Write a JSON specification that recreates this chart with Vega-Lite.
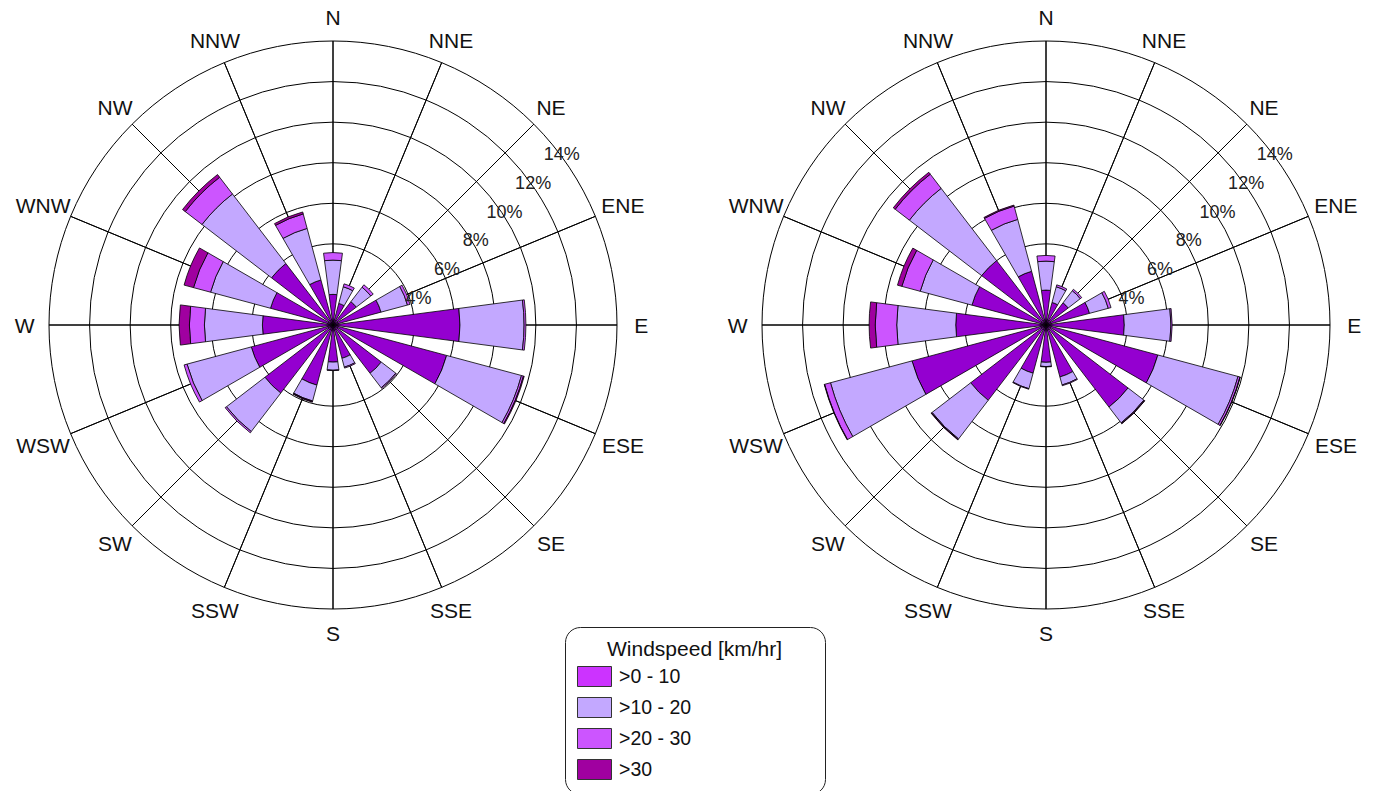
{
  "$schema": "https://vega.github.io/schema/vega-lite/v6.json",
  "padding": {"left": 5, "top": 0, "right": 0, "bottom": 0},
  "background": "white",
  "config": {"font": "Liberation Sans", "view": {"stroke": null}},
  "spacing": 57,
  "bounds": "flush",
  "datasets": {
    "rings": [
      {"ring": 4, "label": "4%"}, {"ring": 6, "label": "6%"}, {"ring": 8, "label": "8%"},
      {"ring": 10, "label": "10%"}, {"ring": 12, "label": "12%"}, {"ring": 14, "label": "14%"}
    ],
    "dirs": [
      {"dir": "N", "deg": 0}, {"dir": "NNE", "deg": 22.5}, {"dir": "NE", "deg": 45}, {"dir": "ENE", "deg": 67.5},
      {"dir": "E", "deg": 90}, {"dir": "ESE", "deg": 112.5}, {"dir": "SE", "deg": 135}, {"dir": "SSE", "deg": 157.5},
      {"dir": "S", "deg": 180}, {"dir": "SSW", "deg": 202.5}, {"dir": "SW", "deg": 225}, {"dir": "WSW", "deg": 247.5},
      {"dir": "W", "deg": 270}, {"dir": "WNW", "deg": 292.5}, {"dir": "NW", "deg": 315}, {"dir": "NNW", "deg": 337.5}
    ],
    "speeds": [
      {"speed": ">0 - 10"}, {"speed": ">10 - 20"}, {"speed": ">20 - 30"}, {"speed": ">30"}
    ],
    "bars": [
      {"panel": "L", "dir": "N", "deg": 0, "speed": ">0 - 10", "pct": 1.51},
      {"panel": "L", "dir": "N", "deg": 0, "speed": ">10 - 20", "pct": 1.69},
      {"panel": "L", "dir": "N", "deg": 0, "speed": ">20 - 30", "pct": 0.37},
      {"panel": "L", "dir": "NNE", "deg": 22.5, "speed": ">0 - 10", "pct": 1.10},
      {"panel": "L", "dir": "NNE", "deg": 22.5, "speed": ">10 - 20", "pct": 0.85},
      {"panel": "L", "dir": "NNE", "deg": 22.5, "speed": ">20 - 30", "pct": 0.15},
      {"panel": "L", "dir": "NE", "deg": 45, "speed": ">0 - 10", "pct": 1.45},
      {"panel": "L", "dir": "NE", "deg": 45, "speed": ">10 - 20", "pct": 0.90},
      {"panel": "L", "dir": "NE", "deg": 45, "speed": ">20 - 30", "pct": 0.15},
      {"panel": "L", "dir": "ENE", "deg": 67.5, "speed": ">0 - 10", "pct": 2.45},
      {"panel": "L", "dir": "ENE", "deg": 67.5, "speed": ">10 - 20", "pct": 1.35},
      {"panel": "L", "dir": "ENE", "deg": 67.5, "speed": ">20 - 30", "pct": 0.13},
      {"panel": "L", "dir": "E", "deg": 90, "speed": ">0 - 10", "pct": 6.26},
      {"panel": "L", "dir": "E", "deg": 90, "speed": ">10 - 20", "pct": 3.16},
      {"panel": "L", "dir": "E", "deg": 90, "speed": ">20 - 30", "pct": 0.09},
      {"panel": "L", "dir": "ESE", "deg": 112.5, "speed": ">0 - 10", "pct": 5.80},
      {"panel": "L", "dir": "ESE", "deg": 112.5, "speed": ">10 - 20", "pct": 3.82},
      {"panel": "L", "dir": "ESE", "deg": 112.5, "speed": ">20 - 30", "pct": 0.10},
      {"panel": "L", "dir": "ESE", "deg": 112.5, "speed": ">30", "pct": 0.04},
      {"panel": "L", "dir": "SE", "deg": 135, "speed": ">0 - 10", "pct": 3.00},
      {"panel": "L", "dir": "SE", "deg": 135, "speed": ">10 - 20", "pct": 0.90},
      {"panel": "L", "dir": "SE", "deg": 135, "speed": ">20 - 30", "pct": 0.05},
      {"panel": "L", "dir": "SSE", "deg": 157.5, "speed": ">0 - 10", "pct": 1.70},
      {"panel": "L", "dir": "SSE", "deg": 157.5, "speed": ">10 - 20", "pct": 0.45},
      {"panel": "L", "dir": "SSE", "deg": 157.5, "speed": ">20 - 30", "pct": 0.05},
      {"panel": "L", "dir": "S", "deg": 180, "speed": ">0 - 10", "pct": 1.83},
      {"panel": "L", "dir": "S", "deg": 180, "speed": ">10 - 20", "pct": 0.40},
      {"panel": "L", "dir": "S", "deg": 180, "speed": ">20 - 30", "pct": 0.02},
      {"panel": "L", "dir": "SSW", "deg": 202.5, "speed": ">0 - 10", "pct": 3.07},
      {"panel": "L", "dir": "SSW", "deg": 202.5, "speed": ">10 - 20", "pct": 0.81},
      {"panel": "L", "dir": "SSW", "deg": 202.5, "speed": ">20 - 30", "pct": 0.03},
      {"panel": "L", "dir": "SSW", "deg": 202.5, "speed": ">30", "pct": 0.03},
      {"panel": "L", "dir": "SW", "deg": 225, "speed": ">0 - 10", "pct": 4.23},
      {"panel": "L", "dir": "SW", "deg": 225, "speed": ">10 - 20", "pct": 2.39},
      {"panel": "L", "dir": "SW", "deg": 225, "speed": ">20 - 30", "pct": 0.08},
      {"panel": "L", "dir": "WSW", "deg": 247.5, "speed": ">0 - 10", "pct": 4.17},
      {"panel": "L", "dir": "WSW", "deg": 247.5, "speed": ">10 - 20", "pct": 3.28},
      {"panel": "L", "dir": "WSW", "deg": 247.5, "speed": ">20 - 30", "pct": 0.15},
      {"panel": "L", "dir": "W", "deg": 270, "speed": ">0 - 10", "pct": 3.48},
      {"panel": "L", "dir": "W", "deg": 270, "speed": ">10 - 20", "pct": 2.86},
      {"panel": "L", "dir": "W", "deg": 270, "speed": ">20 - 30", "pct": 0.74},
      {"panel": "L", "dir": "W", "deg": 270, "speed": ">30", "pct": 0.51},
      {"panel": "L", "dir": "WNW", "deg": 292.5, "speed": ">0 - 10", "pct": 3.19},
      {"panel": "L", "dir": "WNW", "deg": 292.5, "speed": ">10 - 20", "pct": 3.06},
      {"panel": "L", "dir": "WNW", "deg": 292.5, "speed": ">20 - 30", "pct": 0.87},
      {"panel": "L", "dir": "WNW", "deg": 292.5, "speed": ">30", "pct": 0.48},
      {"panel": "L", "dir": "NW", "deg": 315, "speed": ">0 - 10", "pct": 3.82},
      {"panel": "L", "dir": "NW", "deg": 315, "speed": ">10 - 20", "pct": 4.32},
      {"panel": "L", "dir": "NW", "deg": 315, "speed": ">20 - 30", "pct": 1.04},
      {"panel": "L", "dir": "NW", "deg": 315, "speed": ">30", "pct": 0.17},
      {"panel": "L", "dir": "NNW", "deg": 337.5, "speed": ">0 - 10", "pct": 2.30},
      {"panel": "L", "dir": "NNW", "deg": 337.5, "speed": ">10 - 20", "pct": 2.63},
      {"panel": "L", "dir": "NNW", "deg": 337.5, "speed": ">20 - 30", "pct": 0.74},
      {"panel": "L", "dir": "NNW", "deg": 337.5, "speed": ">30", "pct": 0.10},
      {"panel": "R", "dir": "N", "deg": 0, "speed": ">0 - 10", "pct": 1.72},
      {"panel": "R", "dir": "N", "deg": 0, "speed": ">10 - 20", "pct": 1.43},
      {"panel": "R", "dir": "N", "deg": 0, "speed": ">20 - 30", "pct": 0.28},
      {"panel": "R", "dir": "NNE", "deg": 22.5, "speed": ">0 - 10", "pct": 1.15},
      {"panel": "R", "dir": "NNE", "deg": 22.5, "speed": ">10 - 20", "pct": 0.80},
      {"panel": "R", "dir": "NNE", "deg": 22.5, "speed": ">20 - 30", "pct": 0.10},
      {"panel": "R", "dir": "NE", "deg": 45, "speed": ">0 - 10", "pct": 1.38},
      {"panel": "R", "dir": "NE", "deg": 45, "speed": ">10 - 20", "pct": 0.75},
      {"panel": "R", "dir": "NE", "deg": 45, "speed": ">20 - 30", "pct": 0.09},
      {"panel": "R", "dir": "ENE", "deg": 67.5, "speed": ">0 - 10", "pct": 2.22},
      {"panel": "R", "dir": "ENE", "deg": 67.5, "speed": ">10 - 20", "pct": 0.96},
      {"panel": "R", "dir": "ENE", "deg": 67.5, "speed": ">20 - 30", "pct": 0.14},
      {"panel": "R", "dir": "E", "deg": 90, "speed": ">0 - 10", "pct": 3.86},
      {"panel": "R", "dir": "E", "deg": 90, "speed": ">10 - 20", "pct": 2.30},
      {"panel": "R", "dir": "E", "deg": 90, "speed": ">20 - 30", "pct": 0.06},
      {"panel": "R", "dir": "ESE", "deg": 112.5, "speed": ">0 - 10", "pct": 5.71},
      {"panel": "R", "dir": "ESE", "deg": 112.5, "speed": ">10 - 20", "pct": 4.09},
      {"panel": "R", "dir": "ESE", "deg": 112.5, "speed": ">20 - 30", "pct": 0.10},
      {"panel": "R", "dir": "ESE", "deg": 112.5, "speed": ">30", "pct": 0.02},
      {"panel": "R", "dir": "SE", "deg": 135, "speed": ">0 - 10", "pct": 5.10},
      {"panel": "R", "dir": "SE", "deg": 135, "speed": ">10 - 20", "pct": 0.98},
      {"panel": "R", "dir": "SE", "deg": 135, "speed": ">20 - 30", "pct": 0.04},
      {"panel": "R", "dir": "SE", "deg": 135, "speed": ">30", "pct": 0.02},
      {"panel": "R", "dir": "SSE", "deg": 157.5, "speed": ">0 - 10", "pct": 2.65},
      {"panel": "R", "dir": "SSE", "deg": 157.5, "speed": ">10 - 20", "pct": 0.41},
      {"panel": "R", "dir": "SSE", "deg": 157.5, "speed": ">20 - 30", "pct": 0.04},
      {"panel": "R", "dir": "S", "deg": 180, "speed": ">0 - 10", "pct": 1.84},
      {"panel": "R", "dir": "S", "deg": 180, "speed": ">10 - 20", "pct": 0.21},
      {"panel": "R", "dir": "S", "deg": 180, "speed": ">20 - 30", "pct": 0.02},
      {"panel": "R", "dir": "SSW", "deg": 202.5, "speed": ">0 - 10", "pct": 2.46},
      {"panel": "R", "dir": "SSW", "deg": 202.5, "speed": ">10 - 20", "pct": 0.79},
      {"panel": "R", "dir": "SSW", "deg": 202.5, "speed": ">20 - 30", "pct": 0.03},
      {"panel": "R", "dir": "SW", "deg": 225, "speed": ">0 - 10", "pct": 4.68},
      {"panel": "R", "dir": "SW", "deg": 225, "speed": ">10 - 20", "pct": 2.40},
      {"panel": "R", "dir": "SW", "deg": 225, "speed": ">20 - 30", "pct": 0.04},
      {"panel": "R", "dir": "SW", "deg": 225, "speed": ">30", "pct": 0.02},
      {"panel": "R", "dir": "WSW", "deg": 247.5, "speed": ">0 - 10", "pct": 6.84},
      {"panel": "R", "dir": "WSW", "deg": 247.5, "speed": ">10 - 20", "pct": 4.16},
      {"panel": "R", "dir": "WSW", "deg": 247.5, "speed": ">20 - 30", "pct": 0.30},
      {"panel": "R", "dir": "WSW", "deg": 247.5, "speed": ">30", "pct": 0.02},
      {"panel": "R", "dir": "W", "deg": 270, "speed": ">0 - 10", "pct": 4.45},
      {"panel": "R", "dir": "W", "deg": 270, "speed": ">10 - 20", "pct": 2.91},
      {"panel": "R", "dir": "W", "deg": 270, "speed": ">20 - 30", "pct": 1.06},
      {"panel": "R", "dir": "W", "deg": 270, "speed": ">30", "pct": 0.30},
      {"panel": "R", "dir": "WNW", "deg": 292.5, "speed": ">0 - 10", "pct": 3.78},
      {"panel": "R", "dir": "WNW", "deg": 292.5, "speed": ">10 - 20", "pct": 2.64},
      {"panel": "R", "dir": "WNW", "deg": 292.5, "speed": ">20 - 30", "pct": 0.94},
      {"panel": "R", "dir": "WNW", "deg": 292.5, "speed": ">30", "pct": 0.22},
      {"panel": "R", "dir": "NW", "deg": 315, "speed": ">0 - 10", "pct": 4.00},
      {"panel": "R", "dir": "NW", "deg": 315, "speed": ">10 - 20", "pct": 4.49},
      {"panel": "R", "dir": "NW", "deg": 315, "speed": ">20 - 30", "pct": 0.88},
      {"panel": "R", "dir": "NW", "deg": 315, "speed": ">30", "pct": 0.12},
      {"panel": "R", "dir": "NNW", "deg": 337.5, "speed": ">0 - 10", "pct": 2.74},
      {"panel": "R", "dir": "NNW", "deg": 337.5, "speed": ">10 - 20", "pct": 2.65},
      {"panel": "R", "dir": "NNW", "deg": 337.5, "speed": ">20 - 30", "pct": 0.68},
      {"panel": "R", "dir": "NNW", "deg": 337.5, "speed": ">30", "pct": 0.05}
    ]
  },
  "hconcat": [
    {
      "width": 656,
      "height": 650,
      "layer": [
        {
          "data": {"name": "rings"},
          "mark": {"type": "arc", "filled": false, "stroke": "black", "strokeWidth": 1},
          "encoding": {
            "theta": {"datum": 0, "type": "quantitative", "stack": null, "scale": {"type": "linear", "domain": [0, 360], "range": [0, 6.283185307179586]}},
            "theta2": {"datum": 360},
            "radius": {"field": "ring", "type": "quantitative", "stack": null, "scale": {"type": "linear", "domain": [0, 14], "range": [0, 284], "zero": true}}
          }
        },
        {
          "data": {"name": "dirs"},
          "mark": {"type": "arc", "filled": false, "stroke": "black", "strokeWidth": 1},
          "encoding": {
            "theta": {"field": "deg", "type": "quantitative", "stack": null, "scale": {"type": "linear", "domain": [0, 360], "range": [0, 6.283185307179586]}},
            "theta2": {"field": "deg"},
            "radius": {"datum": 14, "type": "quantitative", "stack": null, "scale": {"type": "linear", "domain": [0, 14], "range": [0, 284], "zero": true}},
            "radius2": {"datum": 0}
          }
        },
        {
          "data": {"name": "bars"},
          "transform": [
            {"filter": "datum.panel === 'L'"},
            {"stack": "pct", "groupby": ["dir"], "sort": [{"field": "speed", "order": "ascending"}], "as": ["lo", "hi"]},
            {"calculate": "datum.deg - 7.5", "as": "a0"},
            {"calculate": "datum.deg + 7.5", "as": "a1"}
          ],
          "mark": {"type": "arc", "stroke": "black", "strokeWidth": 0.8},
          "encoding": {
            "theta": {"field": "a0", "type": "quantitative", "stack": null, "scale": {"type": "linear", "domain": [0, 360], "range": [0, 6.283185307179586]}},
            "theta2": {"field": "a1"},
            "radius": {"field": "hi", "type": "quantitative", "stack": null, "scale": {"type": "linear", "domain": [0, 14], "range": [0, 284], "zero": true}},
            "radius2": {"field": "lo"},
            "color": {
              "condition": [
                {"test": "datum.speed === '>0 - 10'", "value": "#9400D0"},
                {"test": "datum.speed === '>10 - 20'", "value": "#C3A8FF"},
                {"test": "datum.speed === '>20 - 30'", "value": "#CC55FF"}
              ],
              "value": "#A000A0"
            }
          }
        },
        {
          "data": {"name": "speeds"},
          "mark": {"type": "arc", "stroke": "#333333", "strokeWidth": 1},
          "encoding": {
            "theta": {"datum": 0, "type": "quantitative", "stack": null, "scale": {"type": "linear", "domain": [0, 360], "range": [0, 6.283185307179586]}},
            "theta2": {"datum": 0},
            "radius": {"value": 0},
            "color": {"field": "speed", "type": "nominal",
              "scale": {"domain": [">0 - 10", ">10 - 20", ">20 - 30", ">30"], "range": ["#CC33FF", "#C3A8FF", "#CC55FF", "#A000A0"]},
              "legend": {
                "title": "\u2800\u2800Windspeed [km/hr]\u2800\u2800",
                "orient": "none", "legendX": 560, "legendY": 627, "direction": "vertical",
                "strokeColor": "#222222", "cornerRadius": 15, "padding": 12, "fillColor": "white",
                "titleFontSize": 21, "titleFontWeight": "normal", "titleColor": "#111111",
                "titleAnchor": "start", "titleAlign": "left", "titlePadding": 6, "titleLimit": 500,
                "labelFontSize": 19.5, "labelColor": "#111111", "labelOffset": 21,
                "symbolType": "M-1,-1L2.4,-1L2.4,1L-1,1Z", "symbolSize": 400,
                "symbolStrokeColor": "#333333", "symbolStrokeWidth": 1, "rowPadding": 6
              }
            }
          }
        },
        {
          "data": {"name": "dirs"},
          "transform": [{"filter": "indexof(['ENE','ESE','WSW','WNW'], datum.dir) >= 0"}],
          "mark": {"type": "text", "fontSize": 21, "align": "center", "baseline": "middle", "dy": 2, "color": "#111111"},
          "encoding": {
            "theta": {"field": "deg", "type": "quantitative", "stack": null, "scale": {"type": "linear", "domain": [0, 360], "range": [0, 6.283185307179586]}},
            "radius": {"datum": 15.47, "type": "quantitative", "stack": null, "scale": {"type": "linear", "domain": [0, 14], "range": [0, 284], "zero": true}},
            "text": {"field": "dir"}
          }
        },
        {
          "data": {"name": "dirs"},
          "transform": [{"filter": "indexof(['ENE','ESE','WSW','WNW'], datum.dir) < 0"}],
          "mark": {"type": "text", "fontSize": 21, "align": "center", "baseline": "middle", "dy": 2, "color": "#111111"},
          "encoding": {
            "theta": {"field": "deg", "type": "quantitative", "stack": null, "scale": {"type": "linear", "domain": [0, 360], "range": [0, 6.283185307179586]}},
            "radius": {"datum": 15.2, "type": "quantitative", "stack": null, "scale": {"type": "linear", "domain": [0, 14], "range": [0, 284], "zero": true}},
            "text": {"field": "dir"}
          }
        },
        {
          "data": {"name": "rings"},
          "mark": {"type": "text", "fontSize": 18, "dx": 28, "dy": 31, "align": "center", "baseline": "middle", "color": "#222222"},
          "encoding": {
            "theta": {"datum": 45, "type": "quantitative", "stack": null, "scale": {"type": "linear", "domain": [0, 360], "range": [0, 6.283185307179586]}},
            "radius": {"field": "ring", "type": "quantitative", "stack": null, "scale": {"type": "linear", "domain": [0, 14], "range": [0, 284], "zero": true}},
            "text": {"field": "label"}
          }
        }
      ]
    },
    {
      "width": 656,
      "height": 650,
      "layer": [
        {
          "data": {"name": "rings"},
          "mark": {"type": "arc", "filled": false, "stroke": "black", "strokeWidth": 1},
          "encoding": {
            "theta": {"datum": 0, "type": "quantitative", "stack": null, "scale": {"type": "linear", "domain": [0, 360], "range": [0, 6.283185307179586]}},
            "theta2": {"datum": 360},
            "radius": {"field": "ring", "type": "quantitative", "stack": null, "scale": {"type": "linear", "domain": [0, 14], "range": [0, 284], "zero": true}}
          }
        },
        {
          "data": {"name": "dirs"},
          "mark": {"type": "arc", "filled": false, "stroke": "black", "strokeWidth": 1},
          "encoding": {
            "theta": {"field": "deg", "type": "quantitative", "stack": null, "scale": {"type": "linear", "domain": [0, 360], "range": [0, 6.283185307179586]}},
            "theta2": {"field": "deg"},
            "radius": {"datum": 14, "type": "quantitative", "stack": null, "scale": {"type": "linear", "domain": [0, 14], "range": [0, 284], "zero": true}},
            "radius2": {"datum": 0}
          }
        },
        {
          "data": {"name": "bars"},
          "transform": [
            {"filter": "datum.panel === 'R'"},
            {"stack": "pct", "groupby": ["dir"], "sort": [{"field": "speed", "order": "ascending"}], "as": ["lo", "hi"]},
            {"calculate": "datum.deg - 7.5", "as": "a0"},
            {"calculate": "datum.deg + 7.5", "as": "a1"}
          ],
          "mark": {"type": "arc", "stroke": "black", "strokeWidth": 0.8},
          "encoding": {
            "theta": {"field": "a0", "type": "quantitative", "stack": null, "scale": {"type": "linear", "domain": [0, 360], "range": [0, 6.283185307179586]}},
            "theta2": {"field": "a1"},
            "radius": {"field": "hi", "type": "quantitative", "stack": null, "scale": {"type": "linear", "domain": [0, 14], "range": [0, 284], "zero": true}},
            "radius2": {"field": "lo"},
            "color": {
              "condition": [
                {"test": "datum.speed === '>0 - 10'", "value": "#9400D0"},
                {"test": "datum.speed === '>10 - 20'", "value": "#C3A8FF"},
                {"test": "datum.speed === '>20 - 30'", "value": "#CC55FF"}
              ],
              "value": "#A000A0"
            }
          }
        },
        {
          "data": {"name": "dirs"},
          "transform": [{"filter": "indexof(['ENE','ESE','WSW','WNW'], datum.dir) >= 0"}],
          "mark": {"type": "text", "fontSize": 21, "align": "center", "baseline": "middle", "dy": 2, "color": "#111111"},
          "encoding": {
            "theta": {"field": "deg", "type": "quantitative", "stack": null, "scale": {"type": "linear", "domain": [0, 360], "range": [0, 6.283185307179586]}},
            "radius": {"datum": 15.47, "type": "quantitative", "stack": null, "scale": {"type": "linear", "domain": [0, 14], "range": [0, 284], "zero": true}},
            "text": {"field": "dir"}
          }
        },
        {
          "data": {"name": "dirs"},
          "transform": [{"filter": "indexof(['ENE','ESE','WSW','WNW'], datum.dir) < 0"}],
          "mark": {"type": "text", "fontSize": 21, "align": "center", "baseline": "middle", "dy": 2, "color": "#111111"},
          "encoding": {
            "theta": {"field": "deg", "type": "quantitative", "stack": null, "scale": {"type": "linear", "domain": [0, 360], "range": [0, 6.283185307179586]}},
            "radius": {"datum": 15.2, "type": "quantitative", "stack": null, "scale": {"type": "linear", "domain": [0, 14], "range": [0, 284], "zero": true}},
            "text": {"field": "dir"}
          }
        },
        {
          "data": {"name": "rings"},
          "mark": {"type": "text", "fontSize": 18, "dx": 28, "dy": 31, "align": "center", "baseline": "middle", "color": "#222222"},
          "encoding": {
            "theta": {"datum": 45, "type": "quantitative", "stack": null, "scale": {"type": "linear", "domain": [0, 360], "range": [0, 6.283185307179586]}},
            "radius": {"field": "ring", "type": "quantitative", "stack": null, "scale": {"type": "linear", "domain": [0, 14], "range": [0, 284], "zero": true}},
            "text": {"field": "label"}
          }
        }
      ]
    }
  ]
}
